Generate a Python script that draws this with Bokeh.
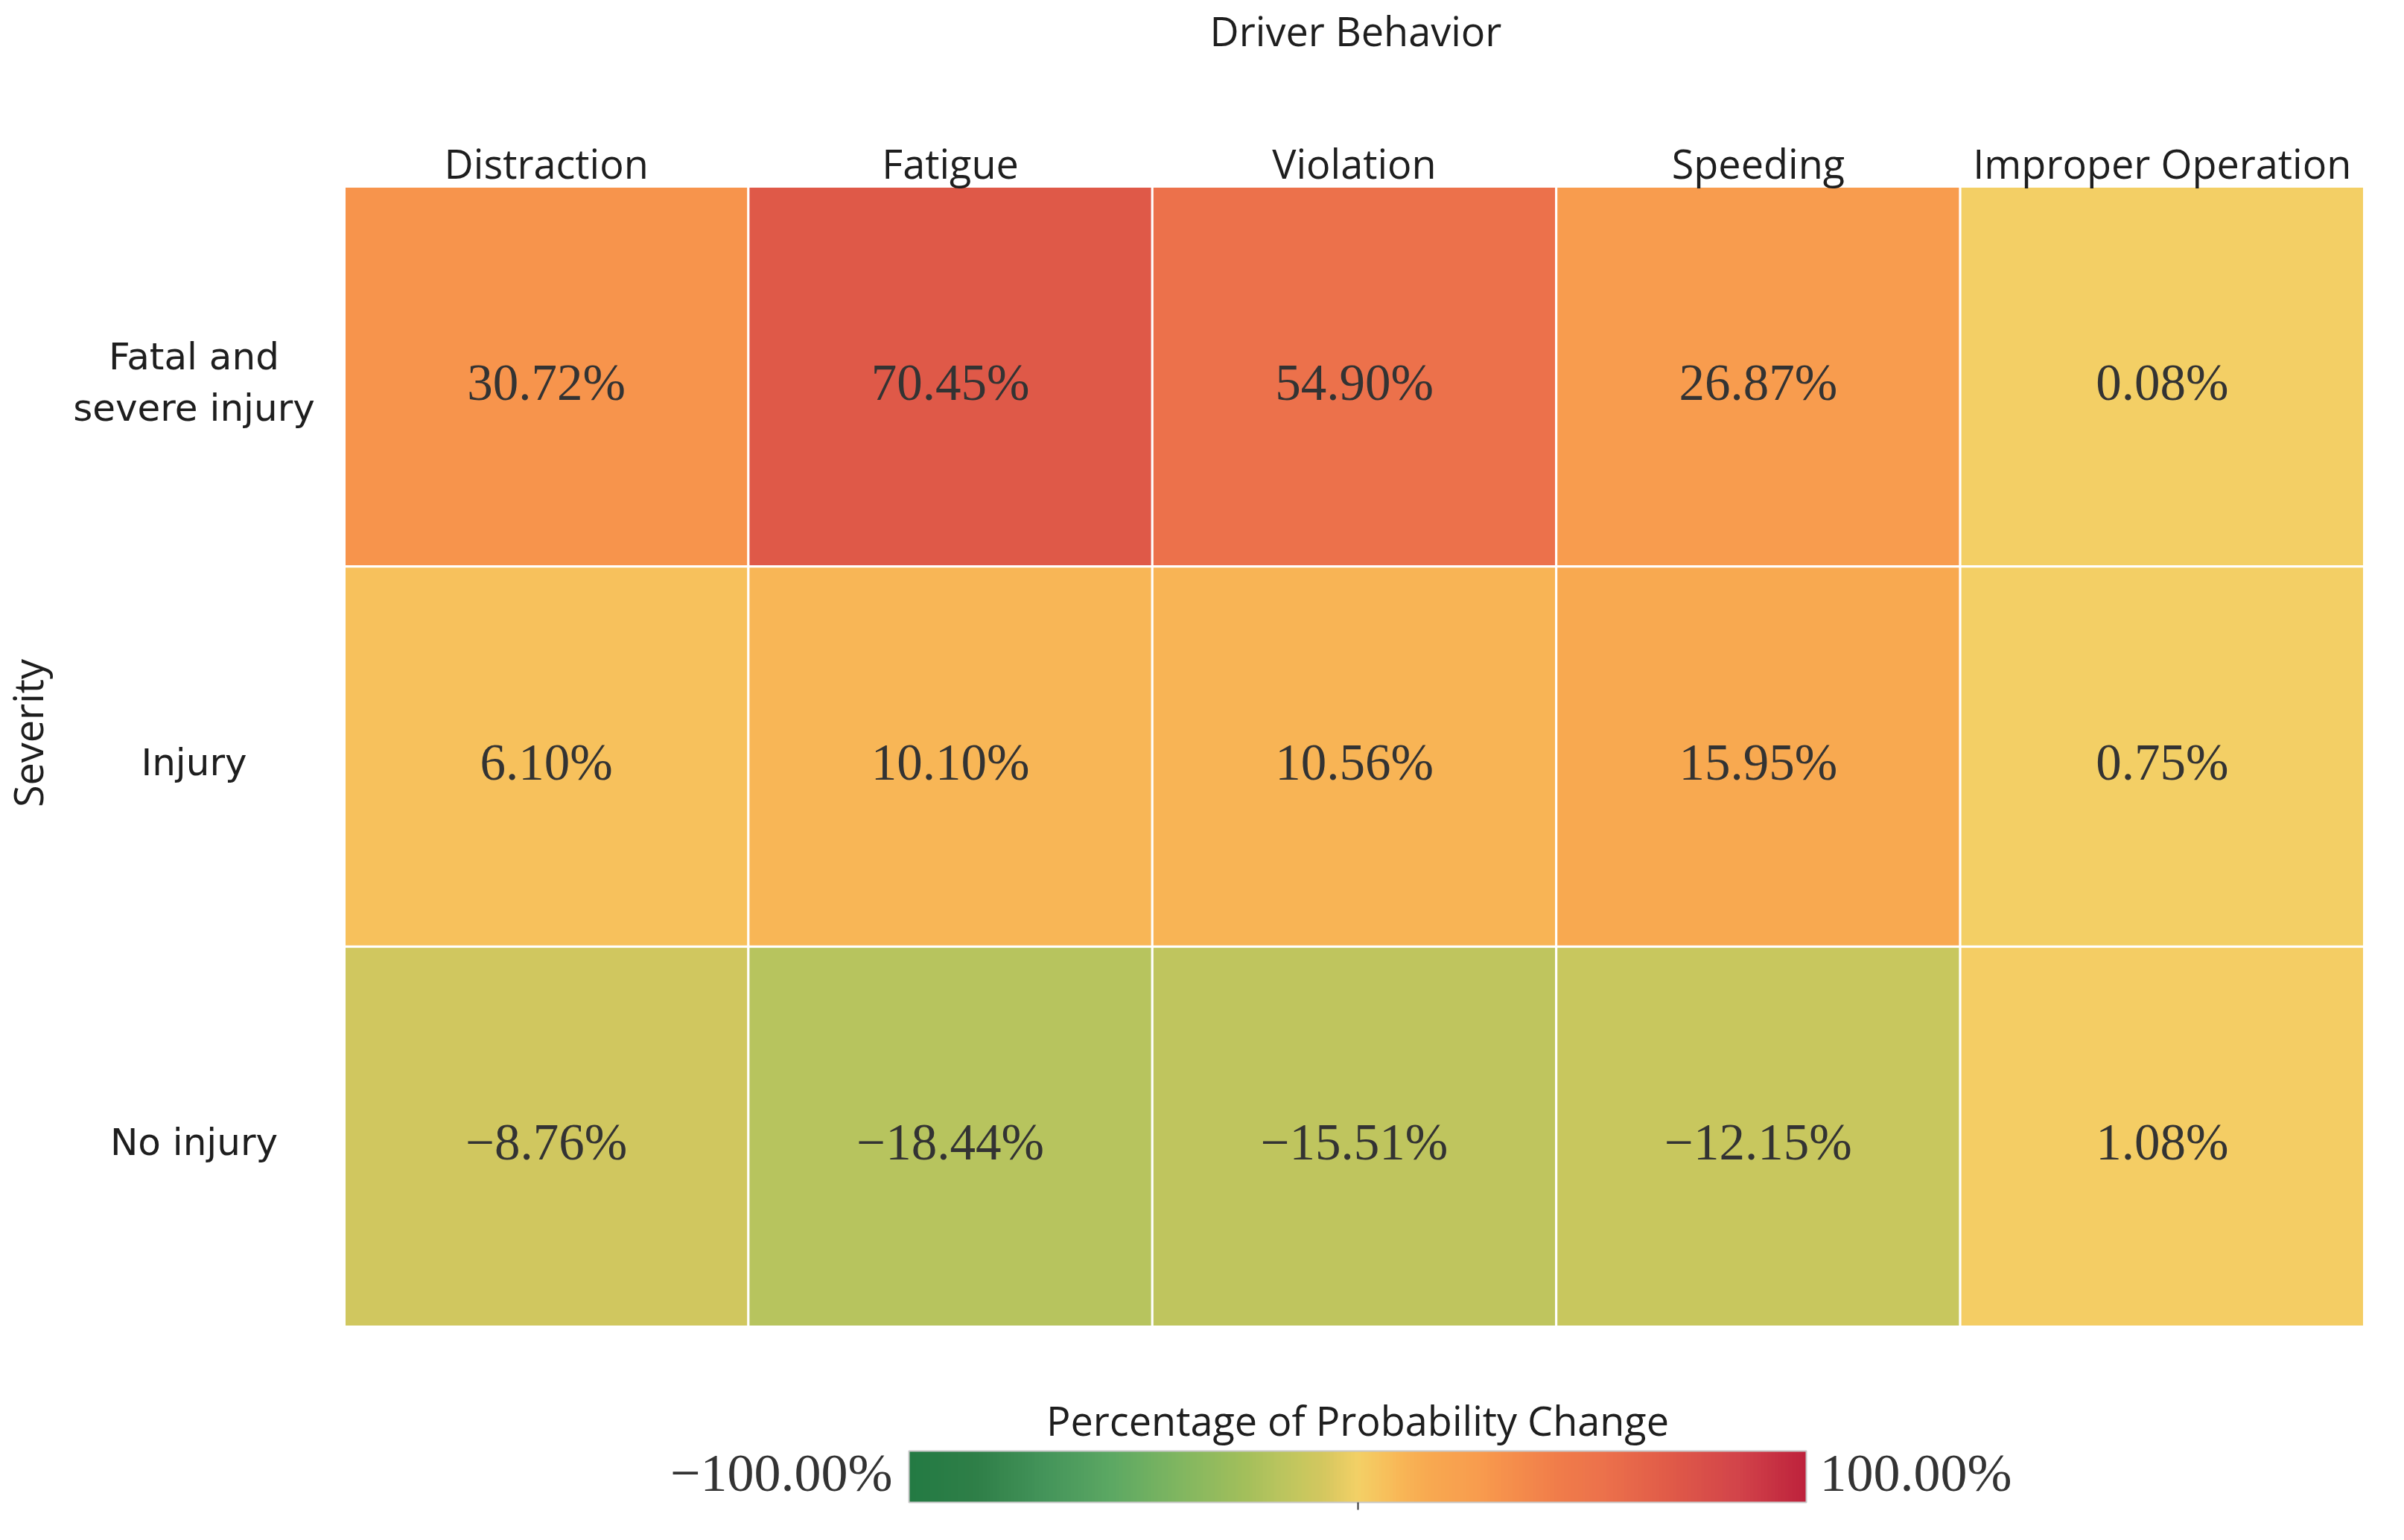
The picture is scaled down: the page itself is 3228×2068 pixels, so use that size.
import numpy as np
from bokeh.plotting import figure
from bokeh.models import (ColumnDataSource, Range1d, LinearColorMapper, ColorBar,
                          FixedTicker)
from bokeh.transform import transform
from bokeh.core.properties import value
from bokeh.embed import file_html
from bokeh.resources import INLINE

# ---------------- data ----------------
behaviors = ["Distraction", "Fatigue", "Violation", "Speeding", "Improper Operation"]
severities = ["Fatal and\nsevere injury", "Injury", "No injury"]
fatal_severe = [30.72, 70.45, 54.90, 26.87, 0.08]
injury = [6.10, 10.10, 10.56, 15.95, 0.75]
no_injury = [-8.76, -18.44, -15.51, -12.15, 1.08]
rows = [fatal_severe, injury, no_injury]
scale_low, scale_high = -100.0, 100.0
x_title = "Driver Behavior"
y_title = "Severity"
legend_title = "Percentage of Probability Change"

# ---------------- colour scale (diverging green-gold-red) ----------------
stops = [(-100, "#237a43"), (-85, "#2f7f48"), (-70, "#44945a"), (-55, "#5ca863"),
         (-40, "#80b660"), (-25, "#a3bf5b"), (-18, "#b8c45e"), (-12, "#c8c75e"),
         (-8, "#d3c75f"), (0, "#f3d066"), (6, "#f7c15c"), (10, "#f8b556"),
         (16, "#f8a950"), (27, "#f89c4e"), (31, "#f7944c"), (45, "#f07c4a"),
         (55, "#ec714b"), (70, "#e05a48"), (85, "#d2444a"), (100, "#be223c")]
sv = np.array([s[0] for s in stops], dtype=float)
sc = np.array([[int(h[i:i + 2], 16) for i in (1, 3, 5)] for _, h in stops], dtype=float)
grid = np.linspace(scale_low, scale_high, 256)
palette = []
for g in grid:
    rgb = [int(round(np.interp(g, sv, sc[:, k]))) for k in range(3)]
    palette.append("#%02x%02x%02x" % tuple(rgb))
mapper = LinearColorMapper(palette=palette, low=scale_low, high=scale_high)

# ---------------- layout (pixels) ----------------
FIG_W, FIG_H = 3212, 2052
GRID_L, GRID_R, GRID_T, GRID_B = 462, 3174, 250, 1781
ncol, nrow = len(behaviors), len(severities)
ux = (GRID_R - GRID_L) / ncol
uy = (GRID_B - GRID_T) / nrow


def px_x(px):
    return (px - GRID_L) / ux


def px_y(py):
    return nrow - (py - GRID_T) / uy


p = figure(width=FIG_W, height=FIG_H,
           x_range=Range1d(-GRID_L / ux, ncol + (FIG_W - GRID_R) / ux),
           y_range=Range1d(-(FIG_H - GRID_B) / uy, nrow + GRID_T / uy),
           output_backend="svg", toolbar_location=None,
           x_axis_location=None, y_axis_location=None,
           min_border=0, min_border_left=0, min_border_right=0,
           min_border_top=0, min_border_bottom=0)
p.xgrid.visible = False
p.ygrid.visible = False
p.outline_line_color = None
p.background_fill_color = "white"
p.border_fill_color = "white"

SANS = value("Open Sans")

# ---------------- cells ----------------
xs, ys, vals, labels = [], [], [], []
for i, row in enumerate(rows):
    for j, v in enumerate(row):
        xs.append(j + 0.5)
        ys.append(nrow - i - 0.5)
        vals.append(v)
        labels.append(("%.2f%%" % v).replace("-", "\u2212"))
src = ColumnDataSource(dict(x=xs, y=ys, v=vals, label=labels))
p.rect(x="x", y="y", width=1, height=1, source=src,
       fill_color=transform("v", mapper), line_color="white", line_width=3)
p.text(x="x", y="y", text="label", source=src, y_offset=8,
       text_font=value("Liberation Serif"), text_font_size="69px",
       text_color="#333333", text_align="center", text_baseline="middle")

# column labels
p.text(x=[j + 0.5 for j in range(ncol)], y=[px_y(218)] * ncol, text=behaviors,
       text_font=SANS, text_font_size="54px", text_color="#1e1e1e",
       text_align="center", text_baseline="middle")
# row labels
p.text(x=[px_x(260)] * nrow, y=[nrow - i - 0.5 for i in range(nrow)], text=severities,
       y_offset=8,
       text_font=value("DejaVu Sans"), text_font_size="50px", text_color="#1e1e1e",
       text_align="center", text_baseline="middle", text_line_height=1.2)
# titles
p.text(x=[px_x(1820)], y=[px_y(40)], text=[x_title],
       text_font=SANS, text_font_size="54px", text_color="#1e1e1e",
       text_align="center", text_baseline="middle")
p.text(x=[px_x(36)], y=[px_y(984)], text=[y_title], angle=np.pi / 2,
       text_font=SANS, text_font_size="54px", text_color="#1e1e1e",
       text_align="center", text_baseline="middle")

# ---------------- legend ----------------
CB_L, CB_R, CB_T, CB_B = 1220, 2425, 1943, 2012
p.text(x=[px_x((CB_L + CB_R) / 2)], y=[px_y(1906)], text=[legend_title],
       text_font=SANS, text_font_size="54px", text_color="#1e1e1e",
       text_align="center", text_baseline="middle")
lo_txt = ("%.2f%%" % scale_low).replace("-", "\u2212")
hi_txt = "%.2f%%" % scale_high
p.text(x=[px_x(CB_L - 22)], y=[px_y((CB_T + CB_B) / 2)], text=[lo_txt],
       text_font=value("Liberation Serif"), text_font_size="72px", text_color="#333333",
       text_align="right", text_baseline="middle")
p.text(x=[px_x(CB_R + 18)], y=[px_y((CB_T + CB_B) / 2)], text=[hi_txt],
       text_font=value("Liberation Serif"), text_font_size="72px", text_color="#333333",
       text_align="left", text_baseline="middle")

cb = ColorBar(color_mapper=mapper, orientation="horizontal",
              width=CB_R - CB_L, height=CB_B - CB_T,
              location=(CB_L, FIG_H - CB_B - 15), padding=0,
              ticker=FixedTicker(ticks=[0]), major_label_overrides={0: ""},
              major_label_text_font_size="0px",
              major_tick_in=0, major_tick_out=10, major_tick_line_color="#333333",
              major_tick_line_width=2,
              bar_line_color="#c8c8c8", bar_line_width=2,
              background_fill_alpha=0, border_line_color=None)
p.add_layout(cb, "center")

open("out.html", "w").write(file_html(p, INLINE))
